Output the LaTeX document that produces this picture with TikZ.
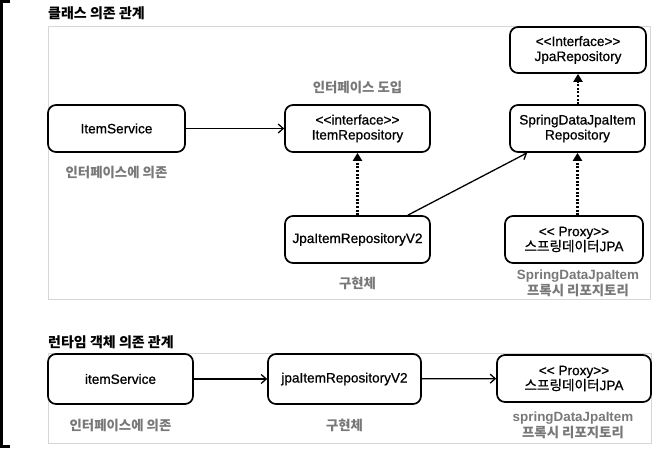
\documentclass[tikz,border=0pt]{standalone}
\usepackage{fontspec}
\setmainfont{Liberation Sans}
\newfontfamily\medfont{Liberation Sans}[FakeBold=0.8]
\newfontfamily\kr{Noto Sans CJK KR}
\newfontfamily\krmed{Noto Sans CJK KR}[FakeBold=0.8]
\usetikzlibrary{arrows.meta,calc}
\definecolor{lblgray}{HTML}{787878}
\definecolor{framegray}{HTML}{D6D6D6}
\begin{document}
\begin{tikzpicture}[x=1pt,y=-1pt,
  box/.style={draw=black,line width=1.7pt,rounded corners=8pt,inner sep=0pt,
    align=center,font=\medfont\fontsize{13.6}{15}\selectfont},
  lbl/.style={text=lblgray,align=center,font=\fontsize{13.4}{16}\selectfont\bfseries},
  ttl/.style={anchor=west,inner sep=0pt,font=\kr\bfseries\fontsize{14}{16}\selectfont},
  frame/.style={draw=framegray,line width=0.9pt},
  solidarr/.style={line width=1.3pt,-{Straight Barb[length=5pt,width=9pt,line width=1.3pt]}},
  dotarr/.style={line width=2.2pt,dash pattern=on 2pt off 1.6pt,-{Triangle[length=8pt,width=9pt]}}
]
\useasboundingbox (0,0) rectangle (660,449);
% left bracket
\draw[line width=3pt] (10,2) -- (1.5,2) -- (1.5,446.5) -- (10,446.5);

% titles and frames
\node[ttl] (t1) at (48,13) {클래스 의존 관계};
\draw[frame] (48,26) rectangle (650,299);
\node[ttl] (t2) at (48,342) {런타임 객체 의존 관계};
\draw[frame] (48,353) rectangle (651,443);

% upper nodes
\node[box,minimum width=137pt,minimum height=47pt] (is) at (116.5,128.5) {ItemService};
\node[box,minimum width=145pt,minimum height=47pt] (ir) at (357.5,128.5) {<{}<interface>{}>\\ItemRepository};
\node[box,minimum width=145pt,minimum height=47pt] (j) at (357.5,239.5) {JpaItemRepositoryV2};
\node[box,minimum width=135pt,minimum height=47pt] (s) at (577.5,128.5) {SpringDataJpaItem\\Repository};
\node[box,minimum width=136pt,minimum height=46pt] (jr) at (578,50) {<{}<Interface>{}>\\JpaRepository};
\node[box,minimum width=138pt,minimum height=47pt] (p) at (574,239.5) {<{}< Proxy>{}>\\{\krmed 스프링데이터}JPA};

\node[lbl] (l1) at (357.5,87) {\kr 인터페이스 도입};
\node[lbl] (l2) at (116.5,172) {\kr 인터페이스에 의존};
\node[lbl] (l3) at (357.5,283) {\kr 구현체};
\node[lbl] (l4) at (578,283.5) {SpringDataJpaItem\\{\kr 프록시 리포지토리}};

\draw[solidarr] (is) -- (ir);
\draw[dotarr] (j.north) -- (ir.south);
\draw[solidarr] ([xshift=-23pt]j.north east) -- ([xshift=18pt]s.south west);
\draw[dotarr] (p.north -| s.south) -- (s.south);
\draw[dotarr] (s.north -| jr.south) -- (jr.south);

% lower nodes
\node[box,minimum width=145pt,minimum height=50pt] (is2) at (120.5,379) {itemService};
\node[box,minimum width=153pt,minimum height=50pt] (j2) at (344.5,379) {jpaItemRepositoryV2};
\node[box,minimum width=154pt,minimum height=47pt] (p2) at (574,378.5) {<{}< Proxy>{}>\\{\krmed 스프링데이터}JPA};

\node[lbl] (l5) at (120.5,425) {\kr 인터페이스에 의존};
\node[lbl] (l6) at (344.5,425) {\kr 구현체};
\node[lbl] (l7) at (573,425.5) {springDataJpaItem\\{\kr 프록시 리포지토리}};

\draw[solidarr] (is2) -- (j2);
\draw[solidarr] (j2) -- (p2);
\end{tikzpicture}
\end{document}
